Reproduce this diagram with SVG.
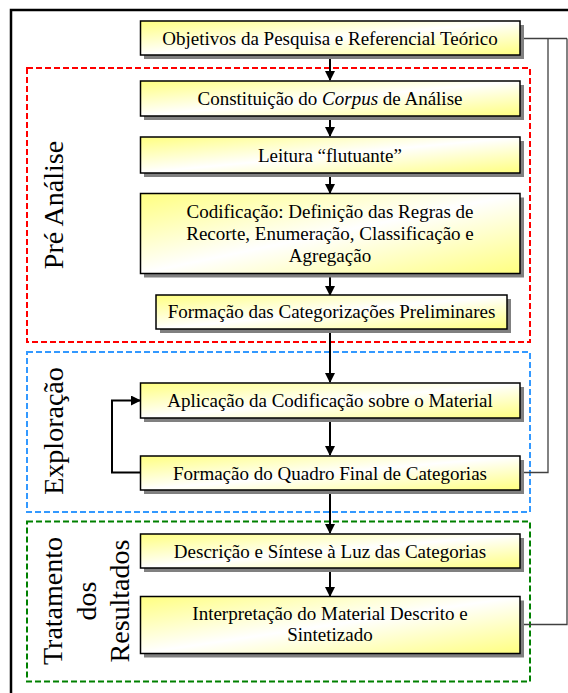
<svg xmlns="http://www.w3.org/2000/svg" width="568" height="693" viewBox="0 0 568 693">
<defs>
<linearGradient id="yg" x1="0" y1="0" x2="1" y2="1">
<stop offset="0" stop-color="#ffff80"/>
<stop offset="0.5" stop-color="#ffffff"/>
<stop offset="1" stop-color="#ffff80"/>
</linearGradient>
<marker id="ah" markerWidth="10" markerHeight="10" refX="9" refY="5" orient="auto" markerUnits="userSpaceOnUse">
<path d="M0,0 L10,5 L0,10 Z" fill="#000"/>
</marker>
</defs>
<style>
.bx{fill:url(#yg);stroke:#000;stroke-width:1.5}
.sh{fill:#808080}
.t{font-family:"Liberation Serif","Times New Roman",serif;font-size:19px;fill:#000;text-anchor:middle}
.lb{font-family:"Liberation Serif","Times New Roman",serif;font-size:28px;fill:#000;text-anchor:middle}
.ar{stroke:#000;stroke-width:2;fill:none;marker-end:url(#ah)}
.gl{stroke:#404040;stroke-width:1.3;fill:none}
.dr{fill:none;stroke:#ff0000;stroke-width:2;stroke-dasharray:6,3}
.db{fill:none;stroke:#3399ff;stroke-width:2;stroke-dasharray:6,3}
.dg{fill:none;stroke:#008000;stroke-width:2;stroke-dasharray:6,3}
</style>
<rect width="568" height="693" fill="#fff"/>
<path d="M11,693 L11,10 L568,10" fill="none" stroke="#000" stroke-width="2.5"/>

<g id="grp-pre"><rect class="dr" x="27" y="68" width="503" height="274"/>
<text class="lb" transform="translate(62.5,205) rotate(-90)">Pré Análise</text></g>
<g id="grp-exp"><rect class="db" x="27" y="352" width="503" height="160"/>
<text class="lb" transform="translate(62.5,431) rotate(-90)">Exploração</text></g>
<g id="grp-trat"><rect class="dg" x="27" y="521.5" width="503" height="160"/>
<text class="lb" transform="translate(62,601) rotate(-90)">Tratamento</text>
<text class="lb" transform="translate(96,601) rotate(-90)">dos</text>
<text class="lb" transform="translate(129,601) rotate(-90)">Resultados</text></g>

<g id="connectors">
<line class="ar" x1="330" y1="55" x2="330" y2="80"/>
<line class="ar" x1="330" y1="116" x2="330" y2="136"/>
<line class="ar" x1="330" y1="173" x2="330" y2="193"/>
<line class="ar" x1="330" y1="273" x2="330" y2="295"/>
<line class="ar" x1="330" y1="329" x2="330" y2="382"/>
<line class="ar" x1="330" y1="417" x2="330" y2="455"/>
<line class="ar" x1="330" y1="490" x2="330" y2="533"/>
<line class="ar" x1="330" y1="568" x2="330" y2="596"/>
<path class="ar" d="M140,472.5 L112,472.5 L112,400.5 L140,400.5"/>
<path class="gl" d="M520,38.5 L567,38.5 M548,38.5 L548,472.5 L520,472.5 M567,38.5 L567,624.5 L520,624.5"/>
</g>

<g id="n1"><rect class="sh" x="144" y="25" width="380" height="34"/><rect class="bx" x="140.5" y="21" width="379.5" height="34"/>
<text class="t" x="330" y="44.5">Objetivos da Pesquisa e Referencial Teórico</text></g>
<g id="n2"><rect class="sh" x="144" y="85" width="380" height="35"/><rect class="bx" x="140.5" y="81" width="379.5" height="35"/>
<text class="t" x="330" y="105">Constituição do <tspan font-style="italic">Corpus</tspan> de Análise</text></g>
<g id="n3"><rect class="sh" x="144" y="141" width="380" height="36"/><rect class="bx" x="140.5" y="137" width="379.5" height="36"/>
<text class="t" x="330" y="161.5">Leitura “flutuante”</text></g>
<g id="n4"><rect class="sh" x="144" y="197.5" width="380" height="80"/><rect class="bx" x="140.5" y="193.5" width="379.5" height="80"/>
<text class="t" x="330" y="217.5">Codificação: Definição das Regras de</text>
<text class="t" x="330" y="239.5">Recorte, Enumeração, Classificação e</text>
<text class="t" x="330" y="261.5">Agregação</text></g>
<g id="n5"><rect class="sh" x="160" y="299" width="351" height="34"/><rect class="bx" x="156" y="295" width="351" height="34"/>
<text class="t" x="331.5" y="318">Formação das Categorizações Preliminares</text></g>
<g id="n6"><rect class="sh" x="144" y="387" width="380" height="35"/><rect class="bx" x="140.5" y="383" width="379.5" height="35"/>
<text class="t" x="330" y="407">Aplicação da Codificação sobre o Material</text></g>
<g id="n7"><rect class="sh" x="144" y="460" width="380" height="34"/><rect class="bx" x="140.5" y="456" width="379.5" height="34"/>
<text class="t" x="330" y="479.5">Formação do Quadro Final de Categorias</text></g>
<g id="n8"><rect class="sh" x="144" y="538" width="380" height="34"/><rect class="bx" x="140.5" y="534" width="379.5" height="34"/>
<text class="t" x="330" y="557.5">Descrição e Síntese à Luz das Categorias</text></g>
<g id="n9"><rect class="sh" x="144" y="600.5" width="380" height="57"/><rect class="bx" x="140.5" y="596.5" width="379.5" height="57"/>
<text class="t" x="330" y="620">Interpretação do Material Descrito e</text>
<text class="t" x="330" y="641">Sintetizado</text></g>
</svg>
